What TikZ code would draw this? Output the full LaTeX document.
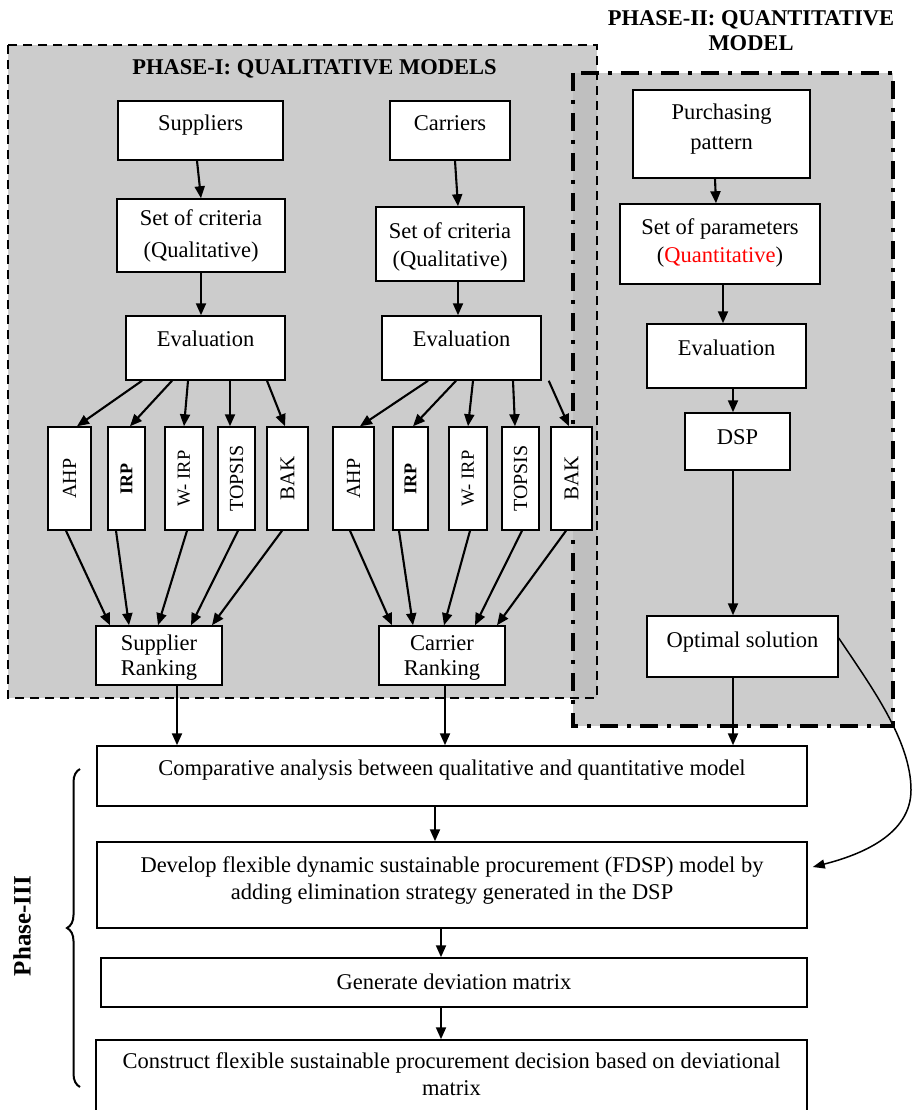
\documentclass[tikz,border=0pt]{standalone}
\usepackage{fontspec}
\setmainfont{Liberation Serif}
\usetikzlibrary{arrows.meta,decorations.pathreplacing,calc}
\newcommand\tb[4]{\parbox[c][#2pt][t]{#1pt}{\centering\vspace*{\dimexpr#3pt-19.6pt\relax}\strut#4\par}}
\begin{document}
\begin{tikzpicture}[x=1pt,y=-1pt,
  box/.style={draw,line width=1.5pt,fill=white,inner sep=0pt,font=\fontsize{22.5}{28}\selectfont},
  meth/.style={draw,line width=1.5pt,fill=white,inner sep=0pt,minimum height=103pt,font=\fontsize{20}{24}\selectfont},
  arr/.style={line width=2.1pt,-{Triangle[length=12pt,width=10pt]}},
  ttl/.style={inner sep=0pt,font=\bfseries\fontsize{22.5}{25}\selectfont}]
\useasboundingbox (0,0) rectangle (912,1110);
% phase regions
\fill[black!20] (8,45) rectangle (597,698);
\fill[black!20] (573,73) rectangle (893,726);
\fill[black!25] (573,73) rectangle (597,698);
\draw[line width=1.4pt,dash pattern=on 9pt off 6pt] (8,45) rectangle (597,698);
\draw[line width=4.8pt,dash pattern=on 18pt off 9pt on 4pt off 9pt] (573,73) rectangle (893,726);
% titles
\node[ttl,anchor=base] (t1) at (314.5,75) {PHASE-I: QUALITATIVE MODELS};
\node[ttl,align=center] (t2) at (751,31) {PHASE-II: QUANTITATIVE\\MODEL};
\node[rotate=90,inner sep=0pt,font=\bfseries\fontsize{25}{30}\selectfont] (p3) at (22,926) {Phase-III};
\draw[line width=2pt,decorate,decoration={brace,amplitude=13pt}] (80,1087) -- (80,769);
% phase I boxes
\node[box] (sup) at (200.5,130.5) {\tb{165}{59}{30}{Suppliers}};
\node[box] (car) at (450,130.5) {\tb{120}{59}{30}{Carriers}};
\node[box] (crL) at (201,235.5) {\tb{168}{73}{26.5}{Set of criteria\\[4pt](Qualitative)}};
\node[box] (crR) at (450,244) {\tb{148}{74}{31.5}{Set of criteria\\(Qualitative)}};
\node[box] (evL) at (205.5,348) {\tb{159}{64}{30.5}{Evaluation}};
\node[box] (evR) at (461.5,348) {\tb{159}{64}{30.5}{Evaluation}};
\node[meth,minimum width=43pt] (mL1) at (69.5,478.5) {\rotatebox{90}{AHP}};
\node[meth,minimum width=37pt] (mL2) at (126.5,478.5) {\rotatebox{90}{\fontsize{18}{20}\selectfont\bfseries IRP}};
\node[meth,minimum width=38pt] (mL3) at (184,478.5) {\rotatebox{90}{\fontsize{18.5}{20}\selectfont W- IRP}};
\node[meth,minimum width=37pt] (mL4) at (236.5,478.5) {\rotatebox{90}{TOPSIS}};
\node[meth,minimum width=41pt] (mL5) at (287.5,478.5) {\rotatebox{90}{\fontsize{21}{24}\selectfont BAK}};
\node[meth,minimum width=41pt] (mR1) at (353.5,478.5) {\rotatebox{90}{AHP}};
\node[meth,minimum width=35pt] (mR2) at (410.5,478.5) {\rotatebox{90}{\fontsize{18}{20}\selectfont\bfseries IRP}};
\node[meth,minimum width=38pt] (mR3) at (468,478.5) {\rotatebox{90}{\fontsize{18.5}{20}\selectfont W- IRP}};
\node[meth,minimum width=37pt] (mR4) at (520.5,478.5) {\rotatebox{90}{TOPSIS}};
\node[meth,minimum width=41pt] (mR5) at (571.5,478.5) {\rotatebox{90}{\fontsize{21}{24}\selectfont BAK}};
\node[box] (supR) at (159,655.5) {\tb{126}{59}{24}{Supplier\\[-3pt]Ranking}};
\node[box] (carR) at (442,655.5) {\tb{126}{59}{24}{Carrier\\[-3pt]Ranking}};
% phase II boxes
\node[box] (pur) at (721.5,134) {\tb{177}{88}{30}{Purchasing\\[2pt]pattern}};
\node[box] (par) at (720,244) {\tb{200}{80}{30}{Set of parameters\\(\textcolor{red}{Quantitative})}};
\node[box] (evQ) at (726.5,356) {\tb{159}{64}{31.5}{Evaluation}};
\node[box] (dsp) at (737.5,441.5) {\tb{105}{57}{31.5}{DSP}};
\node[box] (opt) at (742.5,646.5) {\tb{191}{61}{31}{Optimal solution}};
% phase III boxes
\node[box] (cmp) at (452,776) {\tb{710}{60}{29}{Comparative analysis between qualitative and quantitative model}};
\node[box] (dev) at (452,885) {\tb{710}{86}{30}{Develop flexible dynamic sustainable procurement (FDSP) model by\\[-1pt]adding elimination strategy generated in the DSP}};
\node[box] (gen) at (454,982.5) {\tb{706}{49}{31.5}{Generate deviation matrix}};
\node[box] (con) at (451.5,1085) {\tb{711}{90}{28}{Construct flexible sustainable procurement decision based on deviational\\[-1pt]matrix}};
% arrows phase I
\draw[arr] ([xshift=-3.5pt]sup.south) -- (crL.north);
\draw[arr] ([xshift=5pt]car.south) -- ([xshift=8pt]crR.north);
\draw[arr] (crL.south) -- ([xshift=-4.5pt]evL.north);
\draw[arr] ([xshift=8pt]crR.south) -- ([xshift=-3.5pt]evR.north);
\draw[arr] ([xshift=-63.5pt]evL.south) -- ([xshift=7.5pt]mL1.north);
\draw[arr] ([xshift=-33.5pt]evL.south) -- ([xshift=3.5pt]mL2.north);
\draw[arr] ([xshift=-17.5pt]evL.south) -- (mL3.north);
\draw[arr] ([xshift=24.5pt]evL.south) -- ([xshift=-6.5pt]mL4.north);
\draw[arr] ([xshift=61.5pt]evL.south) -- ([xshift=-2.5pt]mL5.north);
\draw[arr] ([xshift=-33.5pt]evR.south) -- ([xshift=6.5pt]mR1.north);
\draw[arr] ([xshift=-5.5pt]evR.south) -- ([xshift=2.5pt]mR2.north);
\draw[arr] ([xshift=11.5pt]evR.south) -- (mR3.north);
\draw[arr] ([xshift=51.5pt]evR.south) -- ([xshift=-5.5pt]mR4.north);
\draw[arr] ([xshift=7pt]evR.south east) -- ([xshift=-2.5pt]mR5.north);
\draw[arr] ([xshift=-3.5pt]mL1.south) -- ([xshift=-49pt]supR.north);
\draw[arr] ([xshift=-10.5pt]mL2.south) -- ([xshift=-30pt]supR.north);
\draw[arr] ([xshift=3pt]mL3.south) -- ([xshift=-1pt]supR.north);
\draw[arr] ([xshift=1.5pt]mL4.south) -- ([xshift=32pt]supR.north);
\draw[arr] ([xshift=-5.5pt]mL5.south) -- ([xshift=53pt]supR.north);
\draw[arr] ([xshift=-3.5pt]mR1.south) -- ([xshift=-50pt]carR.north);
\draw[arr] ([xshift=-11.5pt]mR2.south) -- ([xshift=-29pt]carR.north);
\draw[arr] ([xshift=2pt]mR3.south) -- ([xshift=2pt]carR.north);
\draw[arr] ([xshift=1.5pt]mR4.south) -- ([xshift=33pt]carR.north);
\draw[arr] ([xshift=-5.5pt]mR5.south) -- ([xshift=55pt]carR.north);
% arrows phase II
\draw[arr] ([xshift=-6.5pt]pur.south) -- ([xshift=-4pt]par.north);
\draw[arr] ([xshift=3pt]par.south) -- ([xshift=-3.5pt]evQ.north);
\draw[arr] ([xshift=6.5pt]evQ.south) -- ([xshift=-4.5pt]dsp.north);
\draw[arr] ([xshift=-4.5pt]dsp.south) -- ([xshift=-9.5pt]opt.north);
% arrows to phase III
\draw[arr] ([xshift=18pt]supR.south) -- ([xshift=-275pt]cmp.north);
\draw[arr] ([xshift=3pt]carR.south) -- ([xshift=-7pt]cmp.north);
\draw[arr] ([xshift=-9.5pt]opt.south) -- ([xshift=281pt]cmp.north);
\draw[arr] ([xshift=-17pt]cmp.south) -- ([xshift=-17pt]dev.north);
\draw[arr] ([xshift=-11pt]dev.south) -- ([xshift=-13pt]gen.north);
\draw[arr] ([xshift=-13pt]gen.south) -- ([xshift=-10.5pt]con.north);
\draw[line width=1.5pt,-{Triangle[length=12pt,width=9pt]}] ([yshift=8.5pt]opt.east) .. controls (870,685) and (911,740) .. (911,790) .. controls (911,835) and (860,855) .. ([xshift=5pt,yshift=18pt]dev.east);
\end{tikzpicture}
\end{document}
